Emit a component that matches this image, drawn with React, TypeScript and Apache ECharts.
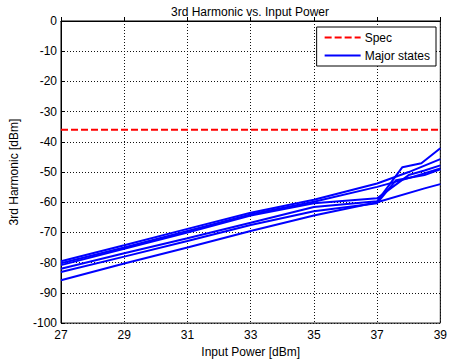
import React, { useEffect, useRef } from "react";
import * as echarts from "echarts";

const xTicks = [27, 29, 31, 33, 35, 37, 39];
const specLevel = -36;
const specX = [27, 39];

// Major states: [input power dBm, 3rd harmonic dBm]
const state1: [number, number][] = [[27, -79.5], [29, -74.2], [31, -68.8], [33, -63.5], [35, -59.2], [37, -53.8], [38, -50], [39, -45.7]];
const state2: [number, number][] = [[27, -80.2], [29, -75], [31, -69.5], [33, -64], [35, -59.8], [37, -54.9], [38, -52], [39, -48.8]];
const state3: [number, number][] = [[27, -80.8], [29, -75.4], [31, -70], [33, -64.4], [35, -60.3], [37, -58.7], [38, -51], [38.5, -49.5], [39, -47.8]];
const state4: [number, number][] = [[27, -82], [29, -76.9], [31, -71.9], [33, -66.8], [35, -61.6], [37, -59.7], [37.8, -48.4], [38.4, -47.1], [39, -42.1]];
const state5: [number, number][] = [[27, -83.1], [29, -78], [31, -72.8], [33, -67.5], [35, -63], [37, -60.3], [37.6, -52.7], [38.5, -51], [39, -49.1]];
const state6: [number, number][] = [[27, -85.8], [29, -80.3], [31, -75], [33, -69.5], [35, -64.4], [37, -60], [38.5, -55.4], [39, -54]];
const majorStates = [state1, state2, state3, state4, state5, state6];

const FONT = "Liberation Sans, Arial, Helvetica, sans-serif";
const DASH_ICON = "path://M0,0h7v2H0z M10,0h7v2h-7z M20,0h7v2h-7z M30,0h6v2h-6z";
const SOLID_ICON = "path://M0,0h36v2H0z";

export default function App() {
  const ref = useRef<HTMLDivElement>(null);
  useEffect(() => {
    if (!ref.current) return;
    const chart = echarts.init(ref.current, undefined, { renderer: "svg" });
    const gridLine = { show: true, lineStyle: { color: "#111", width: 1, type: [1, 2] as any } };
    chart.setOption({
      animation: false,
      backgroundColor: "#fff",
      textStyle: { fontFamily: FONT },
      title: {
        text: "3rd Harmonic vs. Input Power",
        left: 245,
        textAlign: "center",
        top: 1,
        textStyle: { fontSize: 12, fontWeight: "normal", color: "#000", fontFamily: FONT },
      },
      legend: {
        data: [
          { name: "Spec", icon: DASH_ICON },
          { name: "Major states", icon: SOLID_ICON },
        ],
        orient: "vertical",
        right: 14,
        top: 27,
        itemWidth: 36,
        itemHeight: 2,
        itemGap: 5,
        padding: [4, 6, 4, 8],
        borderColor: "#000",
        borderWidth: 1,
        backgroundColor: "#fff",
        textStyle: { fontSize: 12, color: "#000", fontFamily: FONT, padding: [0, 0, 0, -1], lineHeight: 13 },
      },
      grid: { left: 49, right: 8, top: 21, bottom: 34, show: true, borderColor: "#000", borderWidth: 1, backgroundColor: "#fff" },
      xAxis: {
        type: "value",
        min: 27,
        max: 39,
        interval: 2,
        name: "Input Power [dBm]",
        nameLocation: "middle",
        nameGap: 21,
        nameTextStyle: { fontSize: 12, color: "#000", fontFamily: FONT },
        axisLine: { show: true, lineStyle: { color: "#000" } },
        axisTick: { show: true, inside: true, length: 4, lineStyle: { color: "#000" } },
        axisLabel: { fontSize: 12, color: "#000", margin: 6, fontFamily: FONT, formatter: (v: number) => (xTicks.includes(v) ? String(v) : "") },
        splitLine: gridLine,
      },
      yAxis: {
        type: "value",
        min: -100,
        max: 0,
        interval: 10,
        name: "3rd Harmonic [dBm]",
        nameLocation: "middle",
        nameGap: 41,
        nameTextStyle: { fontSize: 12, color: "#000", fontFamily: FONT },
        axisLine: { show: true, lineStyle: { color: "#000" } },
        axisTick: { show: true, inside: true, length: 4, lineStyle: { color: "#000" } },
        axisLabel: { fontSize: 12, color: "#000", margin: 4, fontFamily: FONT },
        splitLine: gridLine,
      },
      series: [
        {
          name: "Spec",
          type: "line",
          symbol: "none",
          data: specX.map((x) => [x, specLevel]),
          lineStyle: { color: "#ff0000", width: 2, type: [7, 3] as any },
          itemStyle: { color: "#ff0000" },
          z: 3,
        },
        ...majorStates.map((s) => ({
          name: "Major states",
          type: "line",
          symbol: "none",
          data: s,
          lineStyle: { color: "#0000ff", width: 2 },
          itemStyle: { color: "#0000ff" },
          z: 2,
        })),
      ],
    });
    return () => chart.dispose();
  }, []);
  return <div ref={ref} style={{ position: "absolute", left: 0, top: 0, width: 450, height: 363 }} />;
}
